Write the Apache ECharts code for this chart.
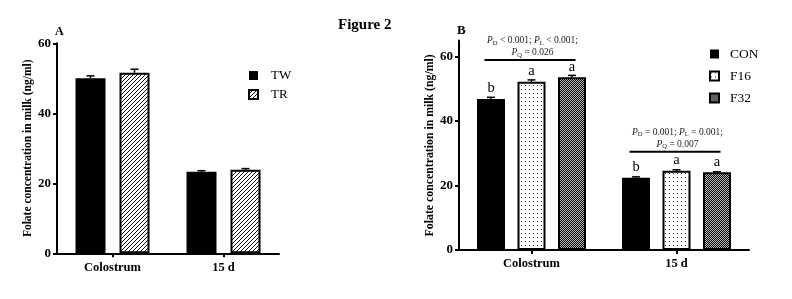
<!DOCTYPE html>
<html><head><meta charset="utf-8">
<script src="https://cdn.jsdelivr.net/npm/echarts@6/dist/echarts.min.js"></script>
<style>html,body{margin:0;padding:0;background:#fff}#c{width:792px;height:299px}</style>
</head><body><div id="c"></div>
<script>
// ---- data ----
const categories = ['Colostrum', '15 d'];
const yTicksA = [0, 20, 40, 60];
const yTicksB = [0, 20, 40, 60];
const seriesA = ['TW', 'TR'];
const twMean = [50.0, 23.3];
const twErr = [0.7, 0.3];
const trMean = [51.6, 23.9];
const trErr = [1.0, 0.3];
const seriesB = ['CON', 'F16', 'F32'];
const conMean = [46.9, 22.4];
const conErr = [0.5, 0.3];
const f16Mean = [52.2, 24.6];
const f16Err = [0.6, 0.3];
const f32Mean = [53.6, 24.1];
const f32Err = [0.6, 0.2];
const conLetters = ['b', 'b'];
const f16Letters = ['a', 'a'];
const f32Letters = ['a', 'a'];
const pLine1 = ['{p|P}{s|D} < 0.001; {p|P}{s|L} < 0.001;', '{p|P}{s|D} = 0.001; {p|P}{s|L} = 0.001;'];
const pLine2 = ['{p|P}{s|Q} = 0.026', '{p|P}{s|Q} = 0.007'];
const sigBarValue = [59, 30.5];
const yName = 'Folate concentration in milk (ng/ml)';

// ---- styles ----
const FF = '"Liberation Serif", "Times New Roman", serif';
function pat(w, h, bg, draw) {
  const c = document.createElement('canvas'); c.width = w; c.height = h;
  const g = c.getContext('2d'); g.fillStyle = bg; g.fillRect(0, 0, w, h); draw(g);
  return { image: c, repeat: 'repeat' };
}
const hatch = pat(4, 4, '#fff', g => { g.fillStyle = '#111'; for (let i = 0; i < 4; i++) g.fillRect(i, 3 - i, 1, 1); });
const dots = pat(4, 4, '#fff', g => { g.fillStyle = '#333'; g.fillRect(1, 1, 1, 1); });
const checker = pat(2, 2, '#000', g => { g.fillStyle = '#c0c0c0'; g.fillRect(0, 0, 1, 1); g.fillRect(1, 1, 1, 1); });

const axisLineStyle = { show: true, lineStyle: { color: '#000', width: 2 } };
const tickStyle = { show: true, length: 4, lineStyle: { color: '#000', width: 2 } };
const tickLabel = { color: '#000', fontFamily: FF, fontWeight: 'bold', fontSize: 13 };

function errSeries(means, errs, axisIdx, off) {
  return {
    type: 'custom', xAxisIndex: axisIdx, yAxisIndex: axisIdx, z: 5, silent: true,
    data: means.map((m, i) => [i, m, errs[i]]),
    encode: { x: 0, y: 1 },
    renderItem: (params, api) => {
      const c = api.coord([api.value(0), api.value(1)]);
      const t = api.coord([api.value(0), api.value(1) + api.value(2)]);
      const x = c[0] + off;
      return { type: 'group', children: [
        { type: 'line', shape: { x1: x, y1: c[1], x2: x, y2: t[1] }, style: { stroke: '#000', lineWidth: 1.5 } },
        { type: 'line', shape: { x1: x - 4, y1: t[1], x2: x + 4, y2: t[1] }, style: { stroke: '#000', lineWidth: 1.5 } }
      ] };
    }
  };
}
function letterLabel(letters) {
  return { show: true, position: 'top', distance: 3, color: '#000', fontFamily: FF, fontSize: 14.5,
    formatter: p => letters[p.dataIndex] };
}

const chart = echarts.init(document.getElementById('c'), null, { renderer: 'canvas' });
const bwA = 30, gapA = 14, bwB = 28, gapB = 12.5;
const option = {
  animation: false,
  backgroundColor: '#fff',
  grid: [
    { left: 57, top: 43.3, width: 222, height: 210 },
    { left: 459, top: 40.6, width: 290, height: 209.4 }
  ],
  xAxis: [
    { gridIndex: 0, type: 'category', data: categories, axisLine: axisLineStyle,
      axisTick: Object.assign({ alignWithLabel: true }, tickStyle), axisLabel: Object.assign({ margin: 8 }, tickLabel, { fontSize: 12.5 }) },
    { gridIndex: 1, type: 'category', data: categories, axisLine: axisLineStyle,
      axisTick: Object.assign({ alignWithLabel: true }, tickStyle), axisLabel: Object.assign({ margin: 7 }, tickLabel, { fontSize: 12.5 }) }
  ],
  yAxis: [
    { gridIndex: 0, type: 'value', min: 0, max: 60, interval: 20, splitLine: { show: false },
      axisLine: axisLineStyle, axisTick: Object.assign({ customValues: yTicksA }, tickStyle),
      axisLabel: Object.assign({ margin: 6, customValues: yTicksA }, tickLabel),
      name: yName, nameLocation: 'middle', nameRotate: 90, nameGap: 18,
      nameTextStyle: { color: '#000', fontFamily: FF, fontWeight: 'bold', fontSize: 11.5 } },
    { gridIndex: 1, type: 'value', min: 0, max: 65, interval: 20, splitLine: { show: false },
      axisLine: axisLineStyle, axisTick: Object.assign({ customValues: yTicksB }, tickStyle),
      axisLabel: Object.assign({ margin: 6, customValues: yTicksB }, tickLabel),
      name: yName, nameLocation: 'middle', nameRotate: 90, nameGap: 21,
      nameTextStyle: { color: '#000', fontFamily: FF, fontWeight: 'bold', fontSize: 11.8 } }
  ],
  legend: [
    { data: seriesA, orient: 'vertical', left: 243, top: 64, icon: 'rect', itemWidth: 9, itemHeight: 9, itemGap: 6,
      textStyle: { color: '#000', fontFamily: FF, fontSize: 13, padding: [0, 0, 0, 8] } },
    { data: seriesB, orient: 'vertical', left: 704, top: 42, icon: 'rect', itemWidth: 9, itemHeight: 9, itemGap: 8,
      textStyle: { color: '#000', fontFamily: FF, fontSize: 13.5, padding: [0, 0, 0, 6] } }
  ],
  series: [
    { name: 'TW', type: 'bar', xAxisIndex: 0, yAxisIndex: 0, data: twMean, barWidth: bwA, barGap: (gapA / bwA * 100) + '%',
      itemStyle: { color: '#000', borderColor: '#000', borderWidth: 0 } },
    { name: 'TR', type: 'bar', xAxisIndex: 0, yAxisIndex: 0, data: trMean, barWidth: bwA, barGap: (gapA / bwA * 100) + '%',
      itemStyle: { color: hatch, borderColor: '#000', borderWidth: 2 } },
    errSeries(twMean, twErr, 0, -(bwA + gapA) / 2),
    errSeries(trMean, trErr, 0, (bwA + gapA) / 2),
    { name: 'CON', type: 'bar', xAxisIndex: 1, yAxisIndex: 1, data: conMean, barWidth: bwB, barGap: (gapB / bwB * 100) + '%',
      itemStyle: { color: '#000', borderColor: '#000', borderWidth: 0 }, label: letterLabel(conLetters) },
    { name: 'F16', type: 'bar', xAxisIndex: 1, yAxisIndex: 1, data: f16Mean, barWidth: bwB, barGap: (gapB / bwB * 100) + '%',
      itemStyle: { color: dots, borderColor: '#000', borderWidth: 2 }, label: letterLabel(f16Letters) },
    { name: 'F32', type: 'bar', xAxisIndex: 1, yAxisIndex: 1, data: f32Mean, barWidth: bwB, barGap: (gapB / bwB * 100) + '%',
      itemStyle: { color: checker, borderColor: '#000', borderWidth: 2 }, label: letterLabel(f32Letters) },
    errSeries(conMean, conErr, 1, -(bwB + gapB)),
    errSeries(f16Mean, f16Err, 1, 0),
    errSeries(f32Mean, f32Err, 1, (bwB + gapB))
  ]
};
chart.setOption(option);

// annotations positioned through the axes
const rich = {
  p: { fontStyle: 'italic', fontFamily: FF, fontSize: 9.5, lineHeight: 12, fill: '#222' },
  s: { fontFamily: FF, fontSize: 6.5, lineHeight: 6.5, verticalAlign: 'bottom', fill: '#222' }
};
const graphics = [
  { type: 'text', left: 338, top: 18, style: { text: 'Figure 2', font: 'bold 15px ' + FF, fill: '#000' } },
  { type: 'text', left: 55, top: 26, style: { text: 'A', font: 'bold 12px ' + FF, fill: '#000' } },
  { type: 'text', left: 457, top: 24, style: { text: 'B', font: 'bold 13px ' + FF, fill: '#000' } }
];
categories.forEach((cat, i) => {
  const c = chart.convertToPixel({ xAxisIndex: 1, yAxisIndex: 1 }, [cat, sigBarValue[i]]);
  graphics.push({ type: 'line', shape: { x1: c[0] - 47, y1: c[1], x2: c[0] + 44, y2: c[1] },
    style: { stroke: '#000', lineWidth: 2 } });
  graphics.push({ type: 'text', x: c[0] + 1, y: c[1] - 19.5,
    style: { text: pLine1[i], rich: rich, align: 'center', verticalAlign: 'middle', fill: '#222',
      fontFamily: FF, fontSize: 9.5, lineHeight: 12 } });
  graphics.push({ type: 'text', x: c[0] + 1, y: c[1] - 7.5,
    style: { text: pLine2[i], rich: rich, align: 'center', verticalAlign: 'middle', fill: '#222',
      fontFamily: FF, fontSize: 9.5, lineHeight: 12 } });
});
chart.setOption({ graphic: graphics });
</script></body></html>
